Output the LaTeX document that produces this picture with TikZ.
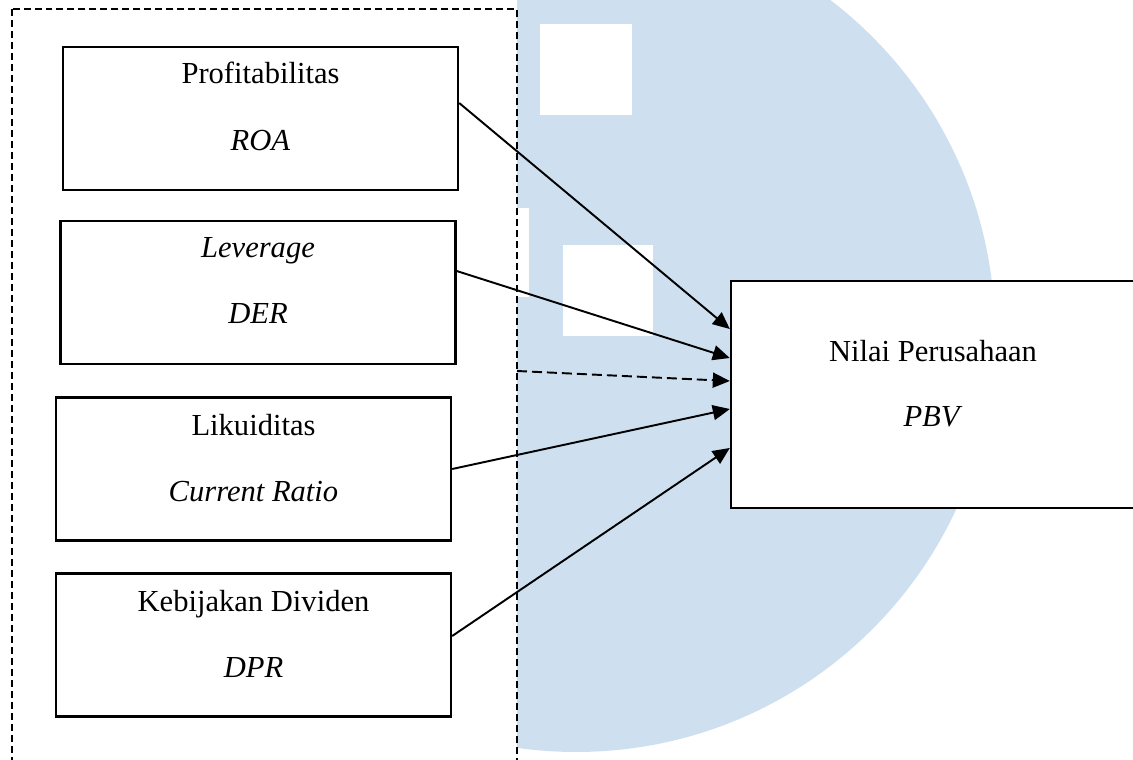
\documentclass[tikz,border=0pt]{standalone}
\usepackage{fontspec}
\setmainfont{Liberation Serif}
\usetikzlibrary{arrows.meta}
\definecolor{wmblue}{RGB}{206,224,239}

\begin{document}
\begin{tikzpicture}[x=0.02cm,y=-0.02cm,line join=miter,
  >={Triangle[length=0.34cm,width=0.3cm]},
  box/.style={draw,line width=1.4pt,fill=white,minimum width=7.9cm,minimum height=2.86cm,inner sep=0pt},
  bigbox/.style={box,minimum width=8.12cm,minimum height=4.54cm},
  txt/.style={anchor=base,inner sep=0pt,font=\fontsize{17.4}{20}\selectfont},
  frame/.style={draw,line width=1pt,dash pattern=on 0.14cm off 0.08cm,fill=white},
  link/.style={->,line width=1.1pt},
  modlink/.style={link,dash pattern=on 0.2cm off 0.1cm}]
\useasboundingbox (0,0) rectangle (1133,760);
\clip (0,0) rectangle (1133,760);
% watermark
\begin{scope}
\clip (517,0) rectangle (1133,760);
\fill[wmblue] (576,333) circle (419);
\fill[white] (540,24) rectangle (632,115);
\fill[white] (438,208) rectangle (529,297);
\fill[white] (563,245) rectangle (653,336);
\end{scope}
% dashed frame round the independent variables
\draw[frame] (12,9) rectangle (517,800);
\coordinate (mod) at (517,371);
% boxes
\node[box] (prof) at (260.5,118.5) {};
\node[txt] (profA) at (260.5,84) {Profitabilitas};
\node[txt] (profB) at (260.5,151) {\textit{ROA}};
\node[box] (lev) at (258,292.5) {};
\node[txt] (levA) at (258,258) {\textit{Leverage}};
\node[txt] (levB) at (258,324) {\textit{DER}};
\node[box] (liq) at (253.5,469) {};
\node[txt] (liqA) at (253.5,435) {Likuiditas};
\node[txt] (liqB) at (253.5,501) {\textit{Current Ratio}};
\node[box] (div) at (253.5,645) {};
\node[txt] (divA) at (253.5,611) {Kebijakan Dividen};
\node[txt] (divB) at (253.5,677) {\textit{DPR}};
\node[bigbox] (nilai) at (934,394.5) {};
\node[txt] (nilaiA) at (933,361) {Nilai Perusahaan};
\node[txt] (nilaiB) at (933,426) {\textit{PBV}};
% arrows
\draw[link] ([yshift=0.31cm]prof.east) -- ([yshift=1.31cm]nilai.west);
\draw[link] ([yshift=0.43cm]lev.east) -- ([yshift=0.73cm]nilai.west);
\draw[modlink] (mod) -- ([yshift=0.27cm]nilai.west);
\draw[link] (liq.east) -- ([yshift=-0.29cm]nilai.west);
\draw[link] ([yshift=0.18cm]div.east) -- ([yshift=-1.07cm]nilai.west);
\end{tikzpicture}
\end{document}
